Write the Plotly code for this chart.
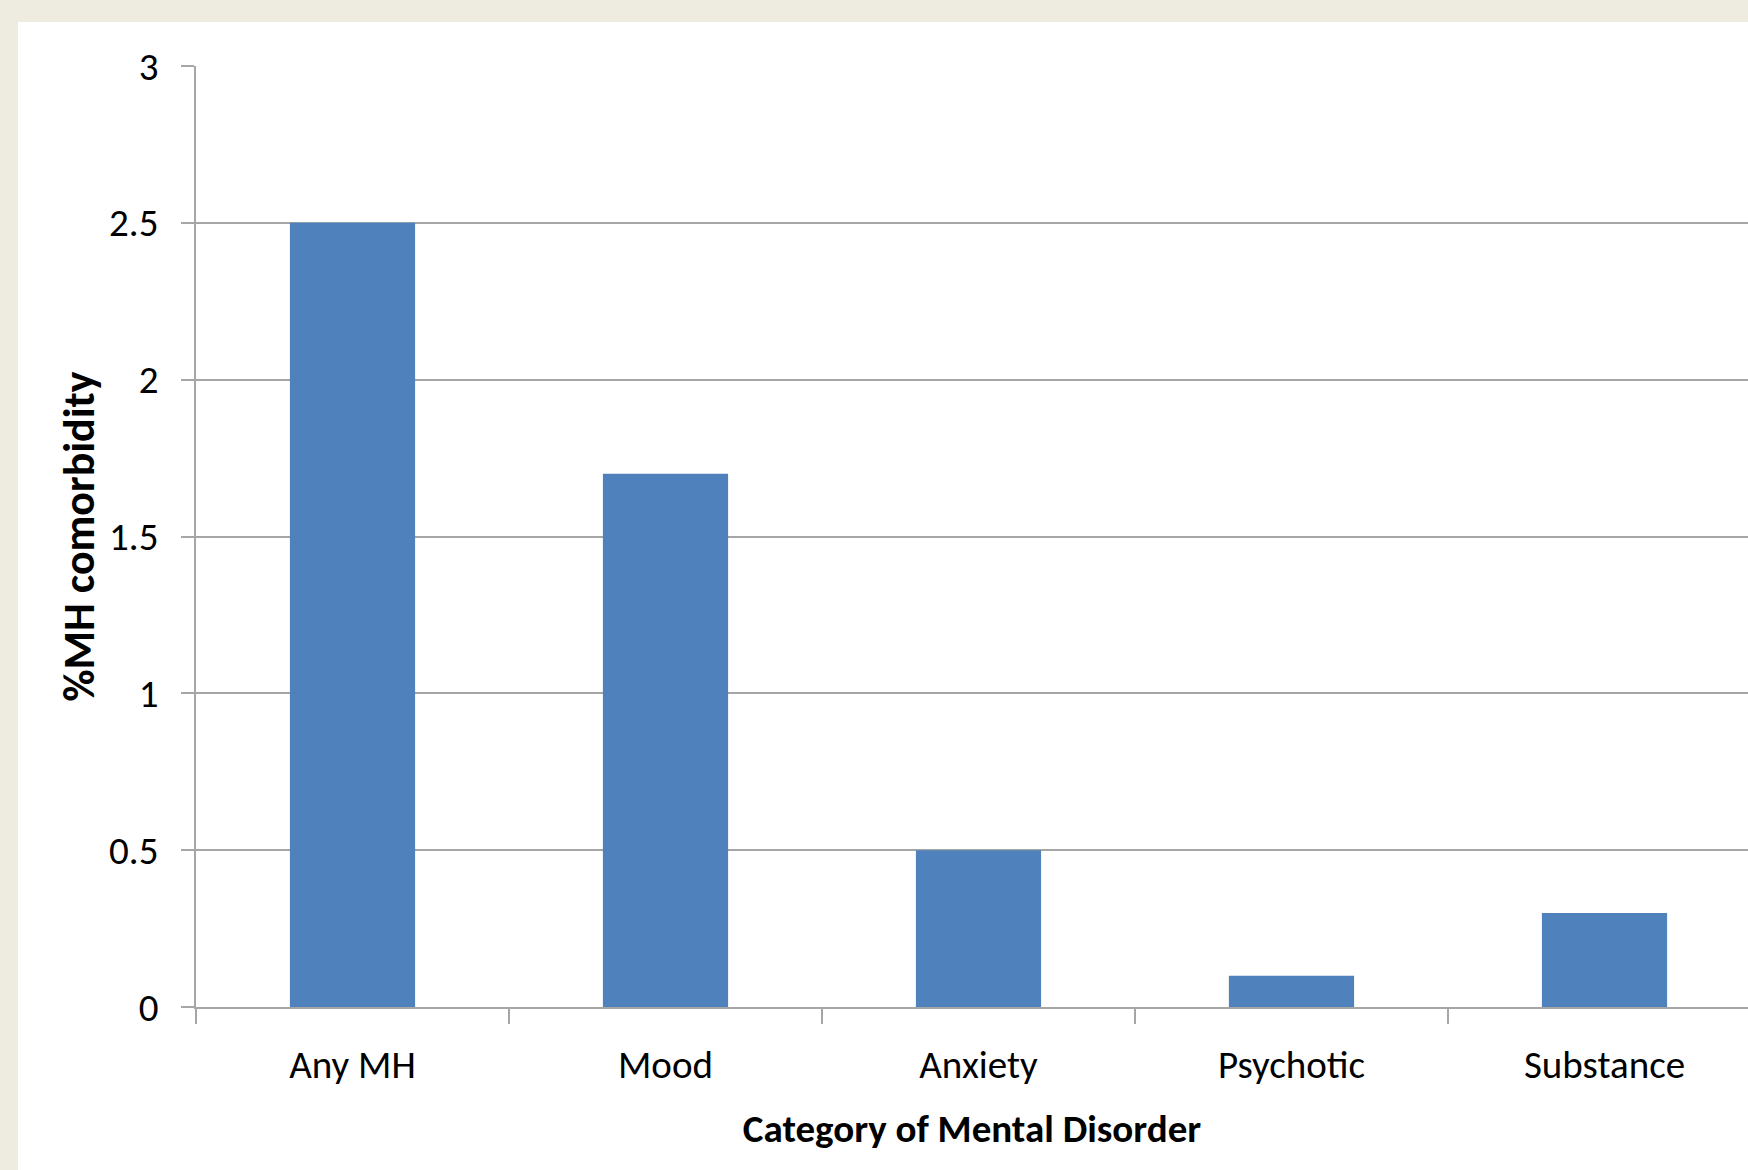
import plotly.graph_objects as go

# Share of people with a mental-health comorbidity, by disorder category
categories = ["Any MH", "Mood", "Anxiety", "Psychotic", "Substance"]
values = [2.5, 1.7, 0.5, 0.1, 0.3]
y_ticks = [0, 0.5, 1, 1.5, 2, 2.5, 3]
y_tick_text = ["0", "0.5", "1", "1.5", "2", "2.5", "3"]

W, H = 1748, 1170
ML, MR, MT, MB = 196, 0, 66, 163
PW, PH = W - ML - MR, H - MT - MB

FONT = "Carlito, Lato, 'Noto Sans', sans-serif"
GRID = "#A6A6A6"
BLUE = "#4F81BD"
FRAME = "#EEEBE0"


def px_x(p):
    return (p - ML) / PW


def px_y(p):
    return (H - MB - p) / PH


fig = go.Figure(
    go.Bar(
        x=categories,
        y=values,
        marker=dict(color=BLUE, line=dict(width=0)),
        width=0.4,
    )
)

# White card on the beige frame
fig.add_shape(
    type="rect", xref="paper", yref="paper",
    x0=px_x(18), x1=px_x(W + 10), y0=px_y(H + 10), y1=px_y(22),
    fillcolor="white", line=dict(width=0), layer="below",
)

fig.update_layout(
    width=W, height=H,
    margin=dict(l=ML, r=MR, t=MT, b=MB),
    paper_bgcolor=FRAME,
    plot_bgcolor="white",
    showlegend=False,
    font=dict(family=FONT, size=39, color="black"),
    bargap=0.6,
)

fig.update_xaxes(
    type="category",
    range=[-0.5, 4.5 - (ML + 5 * 313 - W) / 313],
    tickson="boundaries",
    ticks="outside", ticklen=15, tickcolor=GRID, tickwidth=1.5,
    showline=True, linecolor=GRID, linewidth=1.5,
    showgrid=False,
    ticklabelstandoff=22,
    tickfont=dict(size=39),
    title=dict(text="<b>Category of Mental Disorder</b>", font=dict(size=39), standoff=28),
    automargin=False,
)

fig.update_yaxes(
    range=[0, 3],
    tickvals=y_ticks, ticktext=y_tick_text,
    ticks="outside", ticklen=13, tickcolor=GRID, tickwidth=1.5,
    showline=True, linecolor=GRID, linewidth=1.5,
    showgrid=True, gridcolor=GRID, gridwidth=1.5,
    zeroline=False,
    ticklabelstandoff=15,
    tickfont=dict(size=39),
    title=dict(text="<b>%MH comorbidity</b>", font=dict(size=44), standoff=1),
    automargin=False,
)

fig.write_html("out.html")
